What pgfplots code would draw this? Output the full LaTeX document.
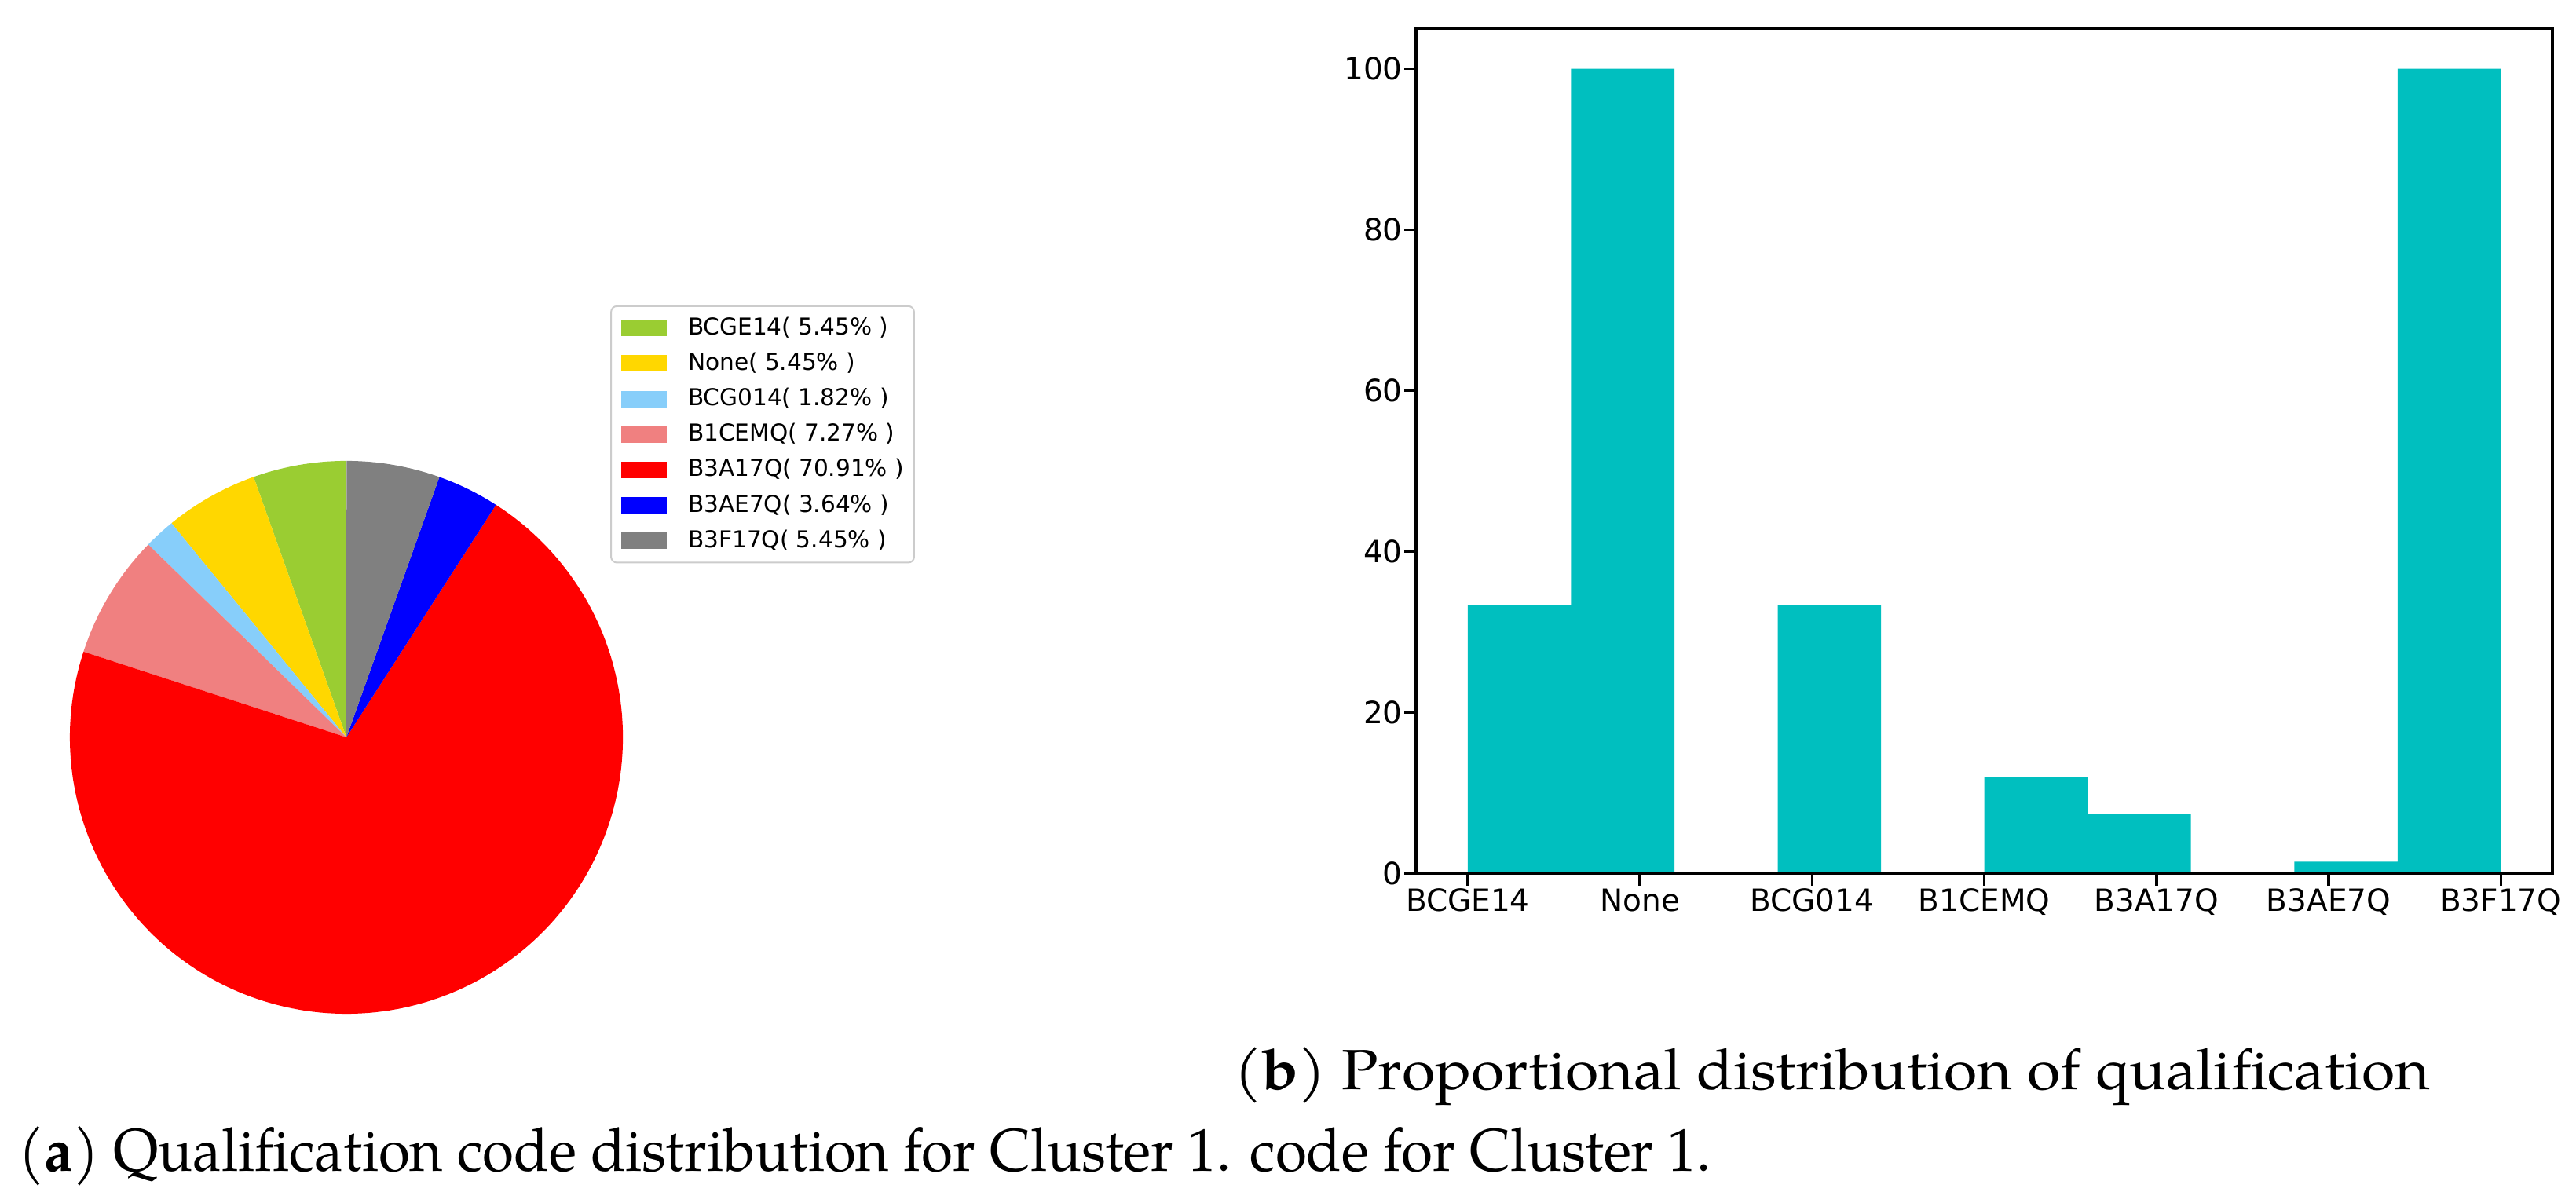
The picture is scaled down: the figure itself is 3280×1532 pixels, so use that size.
\documentclass[border=0pt]{standalone}
\usepackage{fontspec}
\setmainfont{TeX Gyre Pagella}
\newfontfamily\dejavu{DejaVu Sans}
\usepackage{graphicx}
\usepackage{pgfplots}
\pgfplotsset{compat=1.18}

\definecolor{cA}{RGB}{154,205,50}
\definecolor{cB}{RGB}{255,215,0}
\definecolor{cC}{RGB}{135,206,250}
\definecolor{cD}{RGB}{240,128,128}
\definecolor{cE}{RGB}{255,0,0}
\definecolor{cF}{RGB}{0,0,255}
\definecolor{cG}{RGB}{128,128,128}
\definecolor{barc}{RGB}{0,191,191}
\definecolor{legframe}{RGB}{204,204,204}

\begin{document}
\begin{tikzpicture}[x=0.080832pt,y=0.080832pt]
\path (0,0) rectangle (3280,1532);

% ---------- pie chart ----------
\begin{axis}[
  at={(35.65pt,47.93pt)}, anchor=origin,
  x=1cm, y=1cm, xmin=-1, xmax=1, ymin=-1, ymax=1,
  hide axis, clip=false,
  legend image code/.code={\fill[sharp corners, #1] (0pt,-0.85pt) rectangle (4.69pt,0.85pt);},
  legend cell align=left,
  legend style={
    at={(axis description cs:0.9773,1.2813)}, anchor=north west,
    draw=legframe, line width=0.16pt, rounded corners=0.6pt,
    fill=white, inner xsep=1.05pt, inner ysep=1.05pt,
    font=\dejavu\fontsize{2.39}{2.9}\selectfont,
    row sep=1.25pt,
    nodes={inner sep=0pt, text height=1.9pt, text depth=0.5pt},
    /tikz/every odd column/.append style={column sep=2.18pt},
  },
]
\addlegendimage{fill=cA, draw=none}\addlegendentry{BCGE14( 5.45\% )}
\addlegendimage{fill=cB, draw=none}\addlegendentry{None( 5.45\% )}
\addlegendimage{fill=cC, draw=none}\addlegendentry{BCG014( 1.82\% )}
\addlegendimage{fill=cD, draw=none}\addlegendentry{B1CEMQ( 7.27\% )}
\addlegendimage{fill=cE, draw=none}\addlegendentry{B3A17Q( 70.91\% )}
\addlegendimage{fill=cF, draw=none}\addlegendentry{B3AE7Q( 3.64\% )}
\addlegendimage{fill=cG, draw=none}\addlegendentry{B3F17Q( 5.45\% )}
\xdef\startang{90}
\foreach \p/\c in {5.45/cA, 5.45/cB, 1.82/cC, 7.27/cD, 70.91/cE, 3.64/cF, 5.45/cG}{
  \pgfmathsetmacro\endang{\startang+3.6*\p}
  \edef\tmp{\noexpand\fill[\c] (axis cs:0,0) -- ++(\startang:1cm) arc[start angle=\startang, end angle=\endang, radius=1cm] -- cycle;}
  \tmp
  \xdef\startang{\endang}
}
\end{axis}

% ---------- bar chart ----------
\begin{axis}[
  at={(145.74pt,33.89pt)}, anchor=south west,
  scale only axis, width=116.96pt, height=86.98pt,
  xmin=-0.3, xmax=6.3, ymin=0, ymax=105,
  xtick={0,1,2,3,4,5,6},
  xticklabels={BCGE14,None,BCG014,B1CEMQ,B3A17Q,B3AE7Q,B3F17Q},
  ytick={0,20,40,60,80,100},
  xtick pos=left, ytick pos=left,
  tick align=outside, major tick length=1.21pt,
  tick style={black, line width=0.27pt},
  axis line style={line width=0.27pt},
  axis on top,
  /pgf/number format/assume math mode=true,
  ticklabel style={font=\dejavu\fontsize{3.15}{3.8}\selectfont, inner sep=0pt},
  xticklabel style={yshift=-0.15pt},
]
\addplot[ybar interval, fill=barc, draw=none] coordinates {
  (0,33.33) (0.6,100) (1.2,0) (1.8,33.33) (2.4,0) (3.0,12) (3.6,7.4) (4.2,0) (4.8,1.5) (5.4,100) (6.0,100)
};
\end{axis}

% ---------- captions ----------
\node[anchor=south west, inner sep=0pt] at (1569,122)
  {\resizebox*{123.11pt}{5.98pt}{(\textbf{b}) Proportional distribution of qualification}};
\node[anchor=south west, inner sep=0pt] at (21,19)
  {\resizebox*{174.19pt}{6.14pt}{(\textbf{a}) Qualification code distribution for Cluster 1. code for Cluster 1.}};
\end{tikzpicture}
\end{document}
